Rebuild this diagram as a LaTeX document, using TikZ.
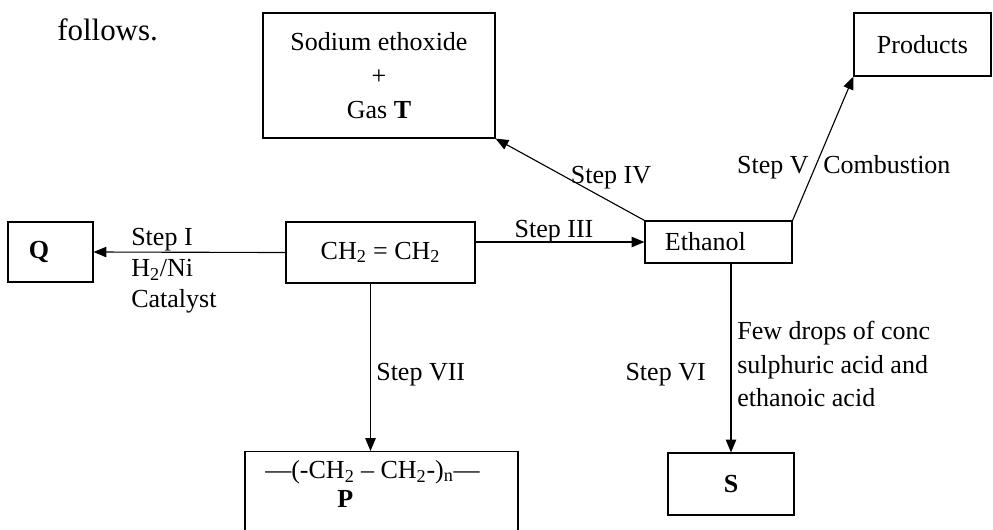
\documentclass[tikz,border=0pt]{standalone}
\usepackage{fontspec}
\setmainfont{Liberation Serif}
\usetikzlibrary{arrows.meta, positioning}

\begin{document}
\begin{tikzpicture}[x=0.025cm, y=-0.025cm,
    box/.style={rectangle, draw, line width=0.8pt, inner sep=0pt,
                font=\fontsize{18.5}{24}\selectfont, align=center},
    lbl/.style={font=\fontsize{18.5}{22}\selectfont, inner sep=0pt},
    arr/.style={-{Triangle[length=0.32cm, width=0.26cm]}, line width=0.8pt}
]
\useasboundingbox (0,0) rectangle (993,529);
\node[lbl, font=\fontsize{22}{26}\selectfont, anchor=base west] (intro) at (57,40) {follows.};

% boxes
\node[box, minimum width=5.8cm, minimum height=3.125cm]  (sodium) at (379,75.5)  {Sodium ethoxide\\+\\Gas \textbf{T}};
\node[box, minimum width=3.425cm, minimum height=1.575cm] (prod)  at (922.5,44.5) {Products};
\node[box, minimum height=1.5cm, align=left, text width=1.075cm, inner xsep=0.525cm] (q) at (50.5,252) {\textbf{Q}};
\node[box, minimum width=4.725cm, minimum height=1.525cm] (ch2)   at (380.5,252.5) {CH\textsubscript{2} = CH\textsubscript{2}};
\node[box, minimum height=1.05cm, align=left, text width=2.675cm, inner xsep=0.5cm] (eth) at (718.5,242) {Ethanol};
\node[box, minimum width=6.825cm, minimum height=2.5cm, anchor=north] (p) at (381.5,451) {};
\node[lbl, align=left, font=\fontsize{18.5}{21}\selectfont, anchor=north west] (pform) at (265,460)
    {---(-CH\textsubscript{2} -- CH\textsubscript{2}-)\textsubscript{n}---\\\hspace*{1.8cm}\textbf{P}};
\node[box, minimum width=3.15cm, minimum height=1.55cm]   (s)     at (731,484)   {\textbf{S}};

% reactions
\draw[arr] (ch2.west) -- (q.east);
\draw[arr] (ch2.east |- eth.west) -- (eth.west);
\draw[arr] (eth.north west) -- (sodium.south east);
\draw[arr] (eth.north east) -- (prod.south west);
\draw[arr] ([xshift=-0.25cm]ch2.south) -- ([xshift=-0.25cm]ch2.south |- p.north);
\draw[arr] (s.north |- eth.south) -- (s.north);

% step labels
\node[lbl, align=left, anchor=west] (stepi) at (131,271) {Step I\\H\textsubscript{2}/Ni\\Catalyst};
\node[lbl, anchor=base] (stepiii) at (554,237) {Step III};
\node[lbl, anchor=base] (stepiv) at (611,183) {Step IV};
\node[lbl, anchor=base east] (stepv) at (809,173) {Step V};
\node[lbl, anchor=base west] (comb) at (823,173) {Combustion};
\node[lbl, anchor=base west] (stepvii) at (376,380) {Step VII};
\node[lbl, anchor=base east] (stepvi) at (706,380) {Step VI};
\node[lbl, align=left, font=\fontsize{18.5}{23.5}\selectfont, anchor=west] (cond) at (737,364)
    {Few drops of conc\\sulphuric acid and\\ethanoic acid};
\end{tikzpicture}
\end{document}
